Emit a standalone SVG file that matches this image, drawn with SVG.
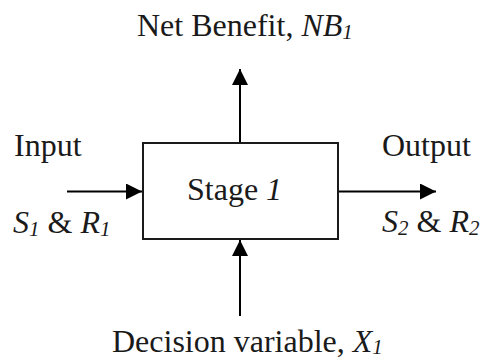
<svg xmlns="http://www.w3.org/2000/svg" width="483" height="360" viewBox="0 0 483 360" font-family="Liberation Serif, Times New Roman, DejaVu Serif, serif">
<style>
text{font-family:'Liberation Serif','Times New Roman','DejaVu Serif',serif;font-size:32px;fill:#1a1a1a}
.it{font-style:italic}
.sub{font-size:21px;font-style:italic}
.box{fill:#fff;stroke:#1a1a1a;stroke-width:2}
.conn{stroke:#000;stroke-width:2;fill:none;marker-end:url(#ah)}
</style>
<defs>
<marker id="ah" markerUnits="userSpaceOnUse" markerWidth="16" markerHeight="16" refX="16" refY="8" orient="auto">
<path d="M0,0 L16,8 L0,16 Z" fill="#000"/>
</marker>
</defs>
<g id="connectors">
<line class="conn" x1="240" y1="142" x2="240" y2="69"/>
<line class="conn" x1="67" y1="191.5" x2="142" y2="191.5"/>
<line class="conn" x1="339" y1="191.5" x2="436" y2="191.5"/>
<line class="conn" x1="240" y1="316" x2="240" y2="240"/>
</g>
<g id="stage">
<rect class="box" x="143" y="143" width="195" height="96"/>
<text x="187" y="200">Stage <tspan class="it">1</tspan></text>
</g>
<g id="net-benefit">
<text x="137" y="36">Net Benefit, <tspan class="it">NB</tspan><tspan class="sub" dy="3">1</tspan></text>
</g>
<g id="input">
<text x="14" y="156">Input</text>
<text x="13" y="233"><tspan class="it">S</tspan><tspan class="sub" dy="3">1</tspan><tspan dy="-3"> &amp; </tspan><tspan class="it">R</tspan><tspan class="sub" dy="3">1</tspan></text>
</g>
<g id="output">
<text x="382" y="156">Output</text>
<text x="382" y="232"><tspan class="it">S</tspan><tspan class="sub" dy="3">2</tspan><tspan dy="-3"> &amp; </tspan><tspan class="it">R</tspan><tspan class="sub" dy="3">2</tspan></text>
</g>
<g id="decision">
<text x="112" y="352">Decision variable, <tspan class="it">X</tspan><tspan class="sub" dy="2">1</tspan></text>
</g>
</svg>
